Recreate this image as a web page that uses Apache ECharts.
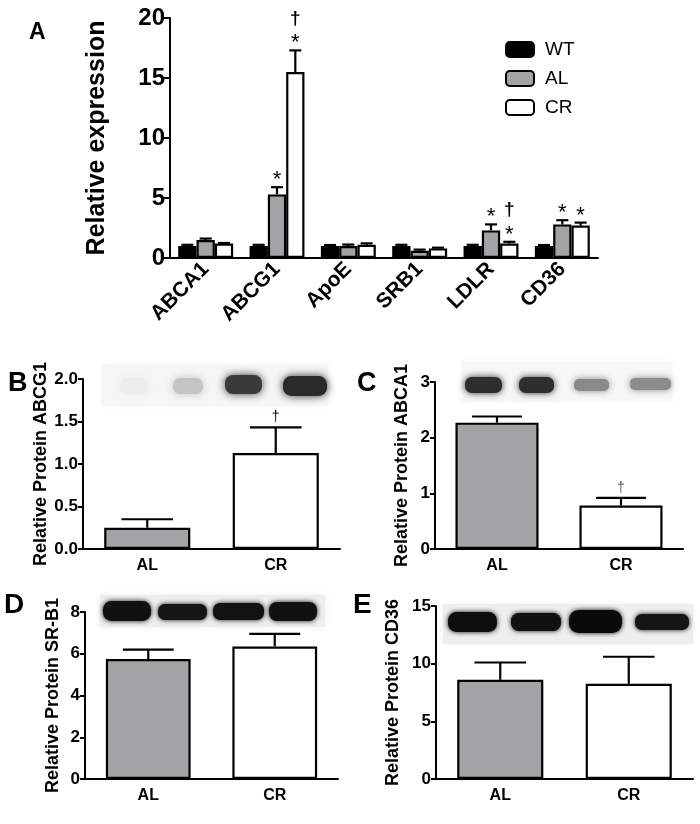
<!DOCTYPE html>
<html>
<head>
<meta charset="utf-8">
<script src="https://cdn.jsdelivr.net/npm/echarts@6/dist/echarts.min.js"></script>
<style>
html,body{margin:0;padding:0;background:#fff;}
#chart{width:700px;height:824px;}
</style>
</head>
<body>
<div id="chart"></div>
<script>
// ---------- Panel A: mRNA relative expression ----------
const genes = ['ABCA1', 'ABCG1', 'ApoE', 'SRB1', 'LDLR', 'CD36'];
const groupNames = ['WT', 'AL', 'CR'];
const wtMean = [1.0, 1.0, 1.0, 1.0, 1.0, 1.0];
const wtErr  = [0.10, 0.10, 0.08, 0.10, 0.10, 0.08];
const alMean = [1.5, 5.3, 1.0, 0.6, 2.3, 2.8];
const alErr  = [0.12, 0.6, 0.12, 0.10, 0.50, 0.35];
const crMean = [1.2, 15.5, 1.1, 0.8, 1.2, 2.7];
const crErr  = [0.05, 1.8, 0.12, 0.06, 0.15, 0.25];
const alStar   = [0, 1, 0, 0, 1, 1];
const crStar   = [0, 1, 0, 0, 1, 1];
const crDagger = [0, 1, 0, 0, 1, 0];
const aTicks = [0, 5, 10, 15, 20];

// ---------- Panels B-E: relative protein ----------
const proteinGroups = ['AL', 'CR'];
const abcg1Mean = [0.25, 1.13];
const abcg1Err  = [0.10, 0.30];
const abcg1Dagger = [0, 1];
const abca1Mean = [2.27, 0.78];
const abca1Err  = [0.11, 0.14];
const abca1Dagger = [0, 1];
const srb1Mean = [5.75, 6.35];
const srb1Err  = [0.45, 0.60];
const cd36Mean = [8.6, 8.25];
const cd36Err  = [1.5, 2.35];

const FONT = "'Liberation Sans', Arial, sans-serif";
const GRAY = '#a3a3a6';
const chart = echarts.init(document.getElementById('chart'));

const A_GAP = 0.23;

function errSeriesA(k, means, errs, stars, daggers) {
  return {
    type: 'custom', xAxisIndex: 0, yAxisIndex: 0, z: 5, silent: true,
    data: means.map((m, i) => [i, m, errs[i], stars ? stars[i] : 0, daggers ? daggers[i] : 0]),
    renderItem: function (params, api) {
      const i = api.value(0), m = api.value(1), e = api.value(2);
      const catW = api.size([1, 0])[0];
      const bw = catW * (1 - A_GAP) / 3;
      const c = api.coord([i, m]);
      const t = api.coord([i, m + e]);
      const x = c[0] + (k - 1) * bw;
      const half = bw * 0.33;
      const lineStyle = { stroke: '#000', lineWidth: 2.2 };
      const children = [
        { type: 'line', shape: { x1: x, y1: c[1], x2: x, y2: t[1] }, style: lineStyle },
        { type: 'line', shape: { x1: x - half, y1: t[1], x2: x + half, y2: t[1] }, style: lineStyle }
      ];
      let ty = t[1] - 11;
      if (api.value(3)) {
        children.push({ type: 'text', style: { text: '*', x: x, y: ty + 4, textAlign: 'center', textVerticalAlign: 'middle', align: 'center', verticalAlign: 'middle', font: '22px ' + FONT, fill: '#000' } });
        ty -= 22;
      }
      if (api.value(4)) {
        children.push({ type: 'text', style: { text: '\u2020', x: x, y: ty + 1, textAlign: 'center', textVerticalAlign: 'middle', align: 'center', verticalAlign: 'middle', font: 'bold 19px ' + FONT, fill: '#000' } });
      }
      return { type: 'group', children: children };
    }
  };
}

function errSeriesP(idx, means, errs, daggers, daggerColor) {
  return {
    type: 'custom', xAxisIndex: idx, yAxisIndex: idx, z: 5, silent: true,
    data: means.map((m, i) => [i, m, errs[i], daggers ? daggers[i] : 0]),
    renderItem: function (params, api) {
      const i = api.value(0), m = api.value(1), e = api.value(2);
      const catW = api.size([1, 0])[0];
      const c = api.coord([i, m]);
      const t = api.coord([i, m + e]);
      const half = catW * 0.67 * 0.3;
      const lineStyle = { stroke: '#000', lineWidth: 2.2 };
      const children = [
        { type: 'line', shape: { x1: c[0], y1: c[1], x2: c[0], y2: t[1] }, style: lineStyle },
        { type: 'line', shape: { x1: c[0] - half, y1: t[1], x2: c[0] + half, y2: t[1] }, style: lineStyle }
      ];
      if (api.value(3)) {
        children.push({ type: 'text', style: { text: '\u2020', x: c[0], y: t[1] - 10, textAlign: 'center', textVerticalAlign: 'middle', align: 'center', verticalAlign: 'middle', font: '14px ' + FONT, fill: daggerColor || '#000' } });
      }
      return { type: 'group', children: children };
    }
  };
}

function barA(name, means, color) {
  return {
    name: name, type: 'bar', xAxisIndex: 0, yAxisIndex: 0,
    data: means, barGap: '0%', barCategoryGap: (A_GAP * 100) + '%',
    itemStyle: { color: color, borderColor: '#000', borderWidth: 2.2 },
    silent: true
  };
}

function barP(idx, means) {
  return {
    type: 'bar', xAxisIndex: idx, yAxisIndex: idx, silent: true,
    barWidth: '67%',
    data: means.map((m, i) => ({ value: m, itemStyle: { color: i === 0 ? GRAY : '#fff' } })),
    itemStyle: { borderColor: '#000', borderWidth: 2.2 }
  };
}

const axisLine = { show: true, lineStyle: { color: '#000', width: 2 } };

function pX(idx) {
  return {
    type: 'category', gridIndex: idx, data: proteinGroups,
    axisLine: axisLine, axisTick: { show: false },
    axisLabel: { color: '#000', fontWeight: 'bold', fontSize: 16, fontFamily: FONT, margin: 9 }
  };
}
function pY(idx, name, max, interval, gap, fmt) {
  return {
    type: 'value', gridIndex: idx, min: 0, max: max, interval: interval,
    name: name, nameLocation: 'middle', nameGap: gap,
    nameTextStyle: { color: '#000', fontWeight: 'bold', fontSize: 18, fontFamily: FONT },
    axisLine: axisLine,
    axisTick: { show: true, length: 5, lineStyle: { color: '#000', width: 2 } },
    axisLabel: { color: '#000', fontWeight: 'bold', fontSize: 17, fontFamily: FONT, margin: 5, formatter: fmt },
    splitLine: { show: false }
  };
}

// blot decoration helpers (image-like, not data)
function strip(x, y, w, h, fill) {
  return { type: 'rect', shape: { x: x, y: y, width: w, height: h }, style: { fill: fill, shadowBlur: 6, shadowColor: fill }, z: 0, silent: true };
}
function band(x, y, w, h, color, blur) {
  return { type: 'rect', shape: { x: x, y: y, width: w, height: h, r: h / 2.4 }, style: { fill: color, shadowBlur: blur, shadowColor: color }, z: 1, silent: true };
}
function letter(t, x, y, size) {
  return { type: 'text', style: { text: t, x: x, y: y, font: 'bold ' + size + 'px ' + FONT, fill: '#000' }, z: 10, silent: true };
}

const option = {
  animation: false,
  backgroundColor: '#fff',
  grid: [
    { left: 170, top: 18, width: 428, height: 240 },
    { left: 83, top: 379, width: 257, height: 170 },
    { left: 435, top: 382, width: 248, height: 167 },
    { left: 85, top: 612, width: 253, height: 167 },
    { left: 436, top: 606, width: 257, height: 173 }
  ],
  legend: {
    data: groupNames, orient: 'vertical', left: 500, top: 35,
    itemWidth: 28, itemHeight: 15, itemGap: 10,
    textStyle: { color: '#000', fontSize: 19, fontFamily: FONT, padding: [0, 0, 0, 6] },
    selectedMode: false
  },
  xAxis: [
    {
      type: 'category', gridIndex: 0, data: genes,
      axisLine: axisLine, axisTick: { show: false },
      axisLabel: { color: '#000', fontWeight: 'bold', fontSize: 21, fontFamily: FONT, rotate: 45, interval: 0, margin: 8 }
    },
    pX(1), pX(2), pX(3), pX(4)
  ],
  yAxis: [
    {
      type: 'value', gridIndex: 0, min: aTicks[0], max: aTicks[aTicks.length - 1], interval: aTicks[1] - aTicks[0],
      name: 'Relative expression', nameLocation: 'middle', nameGap: 60,
      nameTextStyle: { color: '#000', fontWeight: 'bold', fontSize: 25, fontFamily: FONT },
      axisLine: axisLine,
      axisTick: { show: true, length: 6, lineStyle: { color: '#000', width: 2 } },
      axisLabel: { color: '#000', fontWeight: 'bold', fontSize: 24, fontFamily: FONT, margin: 5 },
      splitLine: { show: false }
    },
    pY(1, 'Relative Protein ABCG1', 2, 0.5, 32, v => v.toFixed(1)),
    pY(2, 'Relative Protein ABCA1', 3, 1, 24),
    pY(3, 'Relative Protein SR-B1', 8, 2, 23),
    pY(4, 'Relative Protein CD36', 15, 5, 34)
  ],
  series: [
    barA('WT', wtMean, '#000'),
    barA('AL', alMean, GRAY),
    barA('CR', crMean, '#fff'),
    errSeriesA(0, wtMean, wtErr),
    errSeriesA(1, alMean, alErr, alStar, null),
    errSeriesA(2, crMean, crErr, crStar, crDagger),
    barP(1, abcg1Mean), errSeriesP(1, abcg1Mean, abcg1Err, abcg1Dagger),
    barP(2, abca1Mean), errSeriesP(2, abca1Mean, abca1Err, abca1Dagger, '#4d5e50'),
    barP(3, srb1Mean), errSeriesP(3, srb1Mean, srb1Err),
    barP(4, cd36Mean), errSeriesP(4, cd36Mean, cd36Err)
  ],
  graphic: [
    letter('A', 29, 21, 23),
    letter('B', 8, 370, 27),
    letter('C', 357, 370, 27),
    letter('D', 4, 591, 28),
    letter('E', 353, 591, 28),
    // blot B
    strip(102, 364, 226, 42, '#f6f6f6'),
    band(120, 378, 28, 16, '#ececec', 8),
    band(173, 378, 30, 16, '#c4c4c4', 8),
    band(225, 375, 37, 19, '#3a3a3a', 9),
    band(283, 376, 44, 20, '#2a2a2a', 9),
    // blot C
    strip(462, 361, 210, 41, '#f7f7f7'),
    band(465, 377, 37, 16, '#2e2e2e', 7),
    band(519, 377, 35, 16, '#2e2e2e', 7),
    band(574, 379, 35, 12, '#8a8a8a', 7),
    band(630, 378, 41, 12, '#8c8c8c', 7),
    // blot D
    strip(100, 595, 225, 32, '#eeeeee'),
    band(103, 601, 48, 20, '#111111', 5),
    band(158, 604, 49, 16, '#151515', 5),
    band(213, 603, 51, 17, '#121212', 5),
    band(269, 602, 48, 19, '#111111', 5),
    // blot E
    strip(443, 604, 250, 40, '#eeeeee'),
    band(448, 612, 49, 20, '#0e0e0e', 5),
    band(511, 613, 50, 18, '#111111', 5),
    band(569, 610, 53, 23, '#0a0a0a', 5),
    band(635, 614, 54, 16, '#151515', 5)
  ]
};
chart.setOption(option);
</script>
</body>
</html>
